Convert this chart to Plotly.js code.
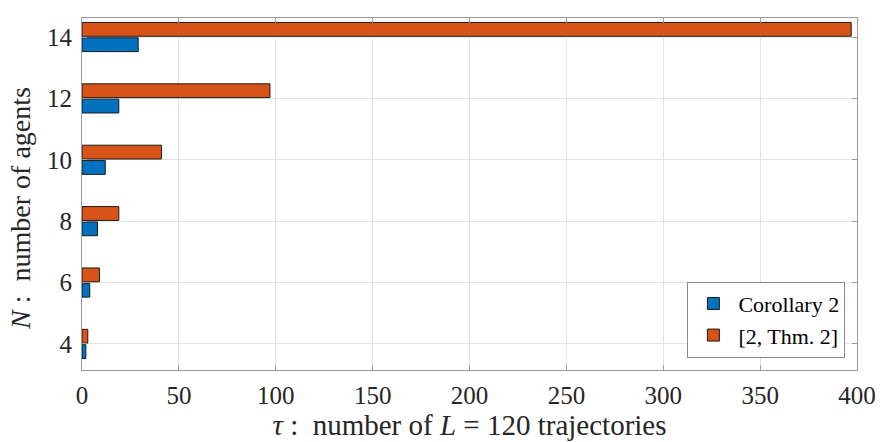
<!DOCTYPE html>
<html>
<head>
<meta charset="utf-8">
<script src="https://cdn.plot.ly/plotly-3.0.1.min.js"></script>
<style>html,body{margin:0;padding:0;background:#fff;}#chart{width:882px;height:442px;}</style>
</head>
<body>
<div id="chart"></div>
<script>
const agents = [4, 6, 8, 10, 12, 14];
const corollary2 = [2, 4, 8, 12, 19, 29];
const thm2 = [3, 9, 19, 41, 97, 397];
const seriesNames = ["Corollary 2", "[2, Thm. 2]"];
const xTicks = [0, 50, 100, 150, 200, 250, 300, 350, 400];

const fontFam = "Liberation Serif";
const traces = [
  {type: "bar", orientation: "h", y: agents, x: corollary2, name: seriesNames[0],
   marker: {color: "#0072BD", line: {color: "#1a1a1a", width: 1}}},
  {type: "bar", orientation: "h", y: agents, x: thm2, name: seriesNames[1],
   marker: {color: "#D95319", line: {color: "#1a1a1a", width: 1}}}
];
const layout = {
  width: 882, height: 442,
  margin: {l: 82, r: 25, t: 18, b: 72},
  paper_bgcolor: "#fff", plot_bgcolor: "#fff",
  barmode: "group", bargap: 0.5, bargroupgap: 0.1,
  font: {family: fontFam, color: "#262626", size: 22},
  showlegend: true,
  legend: {x: 0.985, y: 0.035, xanchor: "right", yanchor: "bottom",
    bordercolor: "#8a8a8a", borderwidth: 1, bgcolor: "#fff",
    font: {family: fontFam, size: 22, color: "#000"}, traceorder: "normal",
    itemwidth: 40, tracegroupgap: 0},
  xaxis: {range: [0, 400], tickvals: xTicks, ticktext: xTicks.map(String),
    showgrid: true, gridcolor: "#e3e3e3", zeroline: false,
    showline: true, linecolor: "#9a9a9a", linewidth: 1, mirror: "ticks",
    ticks: "inside", ticklen: 5, tickcolor: "#9a9a9a", ticklabelstandoff: 3,
    tickfont: {family: fontFam, size: 25, color: "#262626"},
    title: {text: "<i>τ</i>&nbsp;:&nbsp; number of <i>L</i>&nbsp;=&nbsp;120 trajectories", standoff: 5,
      font: {family: fontFam, size: 29, color: "#262626"}}},
  yaxis: {range: [3.15, 14.62], tickvals: agents, ticktext: agents.map(String),
    showgrid: true, gridcolor: "#e3e3e3", zeroline: false,
    showline: true, linecolor: "#9a9a9a", linewidth: 1, mirror: "ticks",
    ticks: "inside", ticklen: 5, tickcolor: "#9a9a9a", ticklabelstandoff: 4,
    tickfont: {family: fontFam, size: 25, color: "#262626"},
    title: {text: "<i>N</i>&nbsp;:&nbsp; number of agents&nbsp;&nbsp;&nbsp;&nbsp;", standoff: 8,
      font: {family: fontFam, size: 28, color: "#262626"}}}
};
Plotly.newPlot("chart", traces, layout, {displayModeBar: false, staticPlot: true});
</script>
</body>
</html>
